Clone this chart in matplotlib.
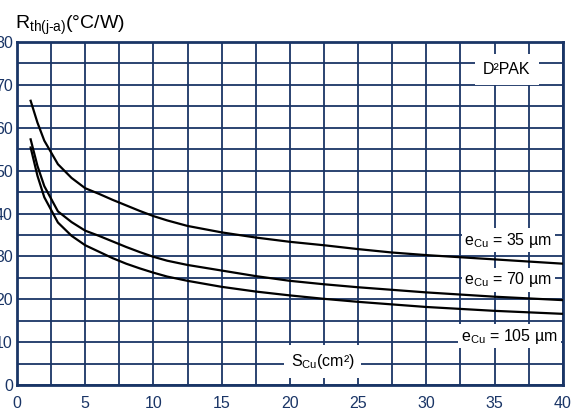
import matplotlib
matplotlib.use("Agg")
import matplotlib.pyplot as plt
from matplotlib.ticker import MultipleLocator

plt.rcParams['font.family'] = ['Liberation Sans', 'DejaVu Sans']
plt.rcParams['mathtext.fontset'] = 'custom'
plt.rcParams['mathtext.rm'] = 'Liberation Sans'
plt.rcParams['mathtext.it'] = 'Liberation Sans'

# Surface de cuivre (cm²)
s_cu = [1, 1.5, 2, 3, 4, 5, 6, 7, 8, 9, 10, 11, 12.5, 15, 17.5, 20, 22.5, 25, 27.5, 30, 35, 40]

# Rth(j-a) pour chaque épaisseur de cuivre (°C/W)
rth_35 = [66.3, 61.2, 57.0, 51.5, 48.3, 45.9, 44.6, 43.2, 41.9, 40.6, 39.4, 38.4, 37.1, 35.6,
          34.4, 33.4, 32.6, 31.7, 30.9, 30.3, 29.3, 28.3]
rth_70 = [57.3, 51.1, 46.4, 40.5, 38.0, 36.0, 34.8, 33.5, 32.2, 31.0, 29.9, 29.0, 28.0, 26.7,
          25.4, 24.3, 23.5, 22.8, 22.2, 21.6, 20.6, 19.8]
rth_105 = [55.4, 48.8, 43.8, 37.9, 34.8, 32.6, 31.1, 29.6, 28.3, 27.2, 26.2, 25.3, 24.3, 22.9,
           21.8, 20.9, 20.1, 19.4, 18.8, 18.2, 17.3, 16.6]

etiquettes = [r'$\mathrm{e_{Cu}}$ = 35 µm', r'$\mathrm{e_{Cu}}$ = 70 µm', r'$\mathrm{e_{Cu}}$ = 105 µm']
pos_etiquettes = [(36.0, 33.8), (36.0, 24.5), (36.1, 11.4)]

bleu = '#1a3566'

fig = plt.figure(figsize=(5.76, 4.12), dpi=100)
ax = fig.add_axes([0.0295, 0.0655, 0.9475, 0.8325])

ax.plot(s_cu, rth_35, color='black', lw=1.6, zorder=3)
ax.plot(s_cu, rth_70, color='black', lw=1.6, zorder=3)
ax.plot(s_cu, rth_105, color='black', lw=1.6, zorder=3)

ax.set_xlim(0, 40)
ax.set_ylim(0, 80)
ax.xaxis.set_major_locator(MultipleLocator(5))
ax.yaxis.set_major_locator(MultipleLocator(10))
ax.xaxis.set_minor_locator(MultipleLocator(2.5))
ax.yaxis.set_minor_locator(MultipleLocator(5))
ax.grid(which='both', color=bleu, lw=1.3, zorder=1)
ax.set_axisbelow(True)
ax.tick_params(which='both', length=0, colors=bleu, labelsize=11.5)
ax.tick_params(axis='x', pad=8)
ax.tick_params(axis='y', pad=3)
for sp in ax.spines.values():
    sp.set_color(bleu)
    sp.set_linewidth(2)

boite = dict(facecolor='white', edgecolor='none', pad=2)
for txt, (x, y) in zip(etiquettes, pos_etiquettes):
    ax.text(x, y, txt, fontsize=11.5, ha='center', va='center', bbox=boite, zorder=4)

ax.text(35.9, 73.6, 'D²PAK', fontsize=11.5, ha='center', va='center',
        bbox=dict(facecolor='white', edgecolor='none', pad=6), zorder=4)
ax.text(22.4, 5.4, r'$\mathrm{S_{Cu}}$(cm²)', fontsize=11.5, ha='center', va='center',
        bbox=dict(facecolor='white', edgecolor='none', pad=5), zorder=4)

fig.text(15 / 576, 1 - 25 / 412, r'$\mathrm{R_{th(j\text{-}a)}}$(°C/W)', fontsize=14,
         ha='left', va='center')

fig.savefig('out.png', dpi=100)
